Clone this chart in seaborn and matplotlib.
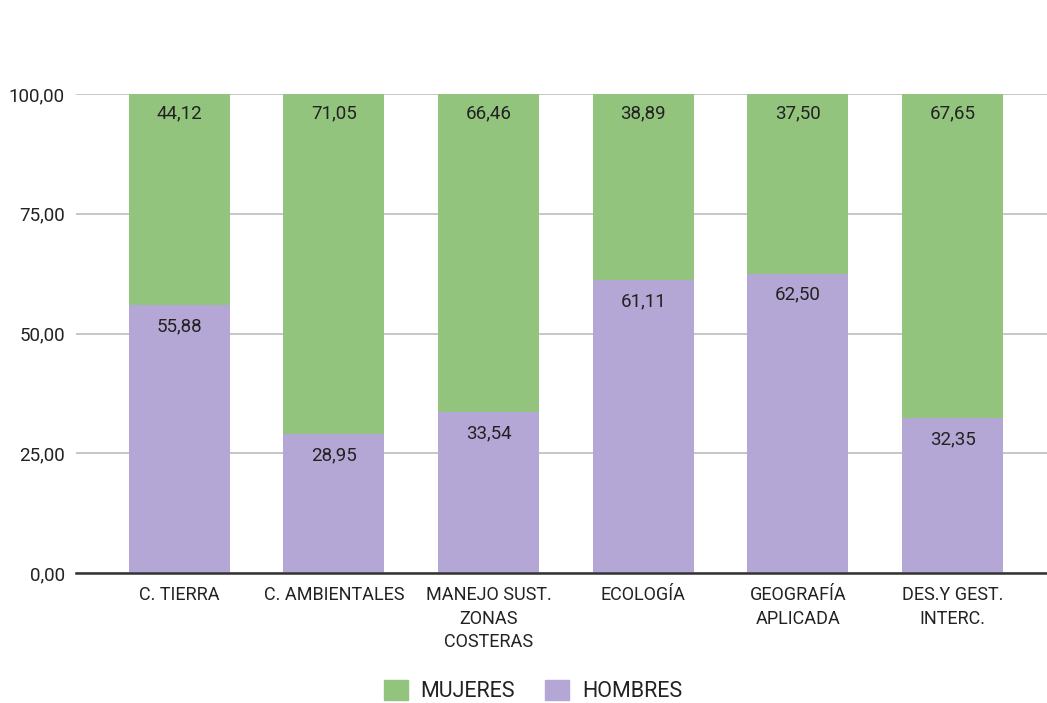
import numpy as np
import pandas as pd
import matplotlib
matplotlib.use('Agg')
import matplotlib.pyplot as plt
from matplotlib.ticker import FuncFormatter
from matplotlib.patches import Patch
import seaborn as sns

carreras = ['C. TIERRA', 'C. AMBIENTALES', 'MANEJO SUST.\nZONAS\nCOSTERAS',
            'ECOLOGÍA', 'GEOGRAFÍA\nAPLICADA', 'DES.Y GEST.\nINTERC.']
mujeres = [44.12, 71.05, 66.46, 38.89, 37.50, 67.65]
hombres = [55.88, 28.95, 33.54, 61.11, 62.50, 32.35]

verde = '#93c47d'
morado = '#b4a7d6'

df = pd.DataFrame({'carrera': carreras, 'mujeres': mujeres, 'hombres': hombres})
df['total'] = df['mujeres'] + df['hombres']

sns.set_style('white')
plt.rcParams['font.family'] = ['Roboto', 'DejaVu Sans']

fig = plt.figure(figsize=(10.47, 7.03), dpi=100)
ax = fig.add_axes([76 / 1047, 1 - 573 / 703, (1047 - 76) / 1047, (573 - 94) / 703])

# apilado: total en verde, hombres en morado encima
sns.barplot(data=df, x='carrera', y='total', color=verde, width=0.653,
            saturation=1, linewidth=0, ax=ax, zorder=2)
sns.barplot(data=df, x='carrera', y='hombres', color=morado, width=0.653,
            saturation=1, linewidth=0, ax=ax, zorder=3)

ax.set_ylim(0, 100)
ax.set_xlim(-0.666, 5.61)
ax.set_yticks([0, 25, 50, 75, 100])
ax.yaxis.set_major_formatter(FuncFormatter(lambda v, p: f'{v:.2f}'.replace('.', ',')))
ax.grid(axis='y', color='#b7b7b7', linewidth=1.1, zorder=0)
ax.set_axisbelow(True)
for s in ['top', 'right', 'left']:
    ax.spines[s].set_visible(False)
ax.spines['bottom'].set_color('#333333')
ax.spines['bottom'].set_linewidth(1.8)
ax.spines['bottom'].set_zorder(5)
ax.tick_params(axis='y', length=0, pad=8, labelsize=13.5, labelcolor='#222222')
ax.tick_params(axis='x', length=0, pad=9.5, labelsize=13, labelcolor='#222222')
for lbl in ax.get_xticklabels():
    lbl.set_linespacing(1.4)
ax.set_xlabel('')
ax.set_ylabel('')

fmt = lambda v: f'{v:.2f}'.replace('.', ',')
for i in range(len(carreras)):
    ax.annotate(fmt(mujeres[i]), (i, df['total'][i]), xytext=(0, -14), textcoords='offset points',
                ha='center', va='center', fontsize=13.5, color='#222222', zorder=6)
    ax.annotate(fmt(hombres[i]), (i, hombres[i]), xytext=(0, -15), textcoords='offset points',
                ha='center', va='center', fontsize=13.5, color='#222222', zorder=6)

handles = [Patch(color=verde, label='MUJERES'), Patch(color=morado, label='HOMBRES')]
leg = fig.legend(handles=handles, loc='center', bbox_to_anchor=(533 / 1047, 1 - 691 / 703),
                 ncol=2, frameon=False, fontsize=15.5, handlelength=1.1, handleheight=1.1,
                 columnspacing=1.4, handletextpad=0.6)
for t in leg.get_texts():
    t.set_color('#222222')

fig.savefig('out.png', dpi=100)
